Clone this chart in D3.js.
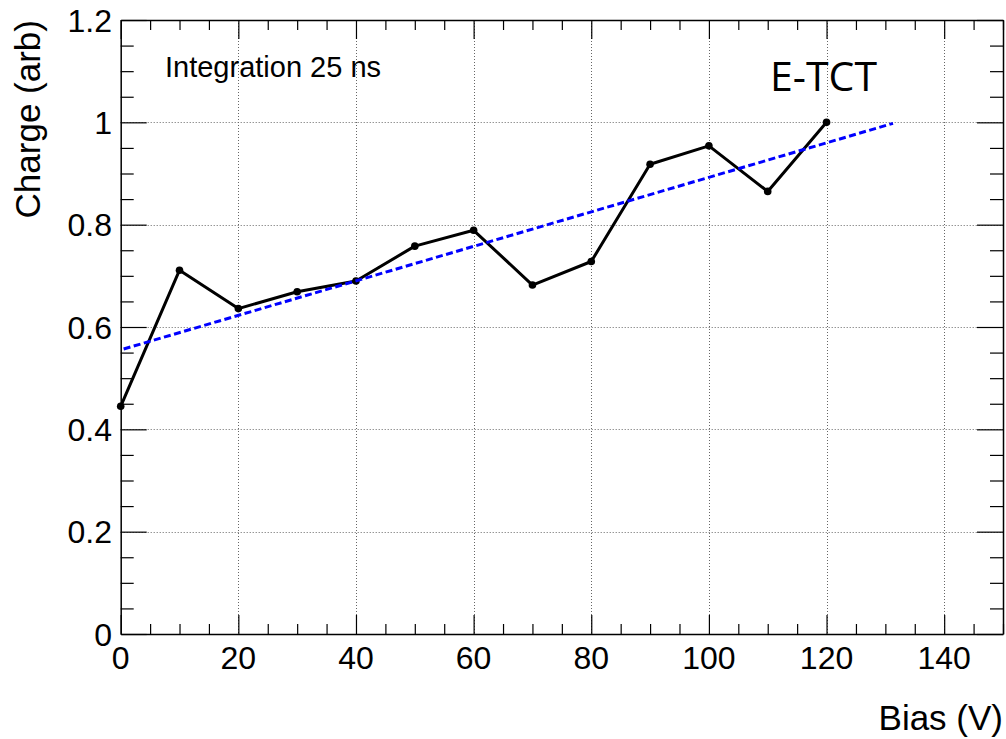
<!DOCTYPE html>
<html>
<head>
<meta charset="utf-8">
<script src="https://cdn.jsdelivr.net/npm/d3@7"></script>
<style>
  html, body { margin: 0; padding: 0; background: #fff; }
  svg { display: block; }
</style>
</head>
<body>
<div id="chart"></div>
<script>
// Measured charge versus bias voltage
const biasVolts = [0, 10, 20, 30, 40, 50, 60, 70, 80, 90, 100, 110, 120];
const chargeArb = [0.445, 0.711, 0.636, 0.669, 0.690, 0.758, 0.789, 0.682, 0.728, 0.918, 0.954, 0.865, 1.0];

// Linear fit endpoints (bias, charge)
const fitBias = [0.5, 131.3];
const fitCharge = [0.557, 0.998];

// Axis ticks
const xMajorTicks = [0, 20, 40, 60, 80, 100, 120, 140];
const yMajorTicks = [0, 0.2, 0.4, 0.6, 0.8, 1.0, 1.2];
const xTickLabels = ["0", "20", "40", "60", "80", "100", "120", "140"];
const yTickLabels = ["0", "0.2", "0.4", "0.6", "0.8", "1", "1.2"];

const W = 1006, H = 739;
const frame = { left: 120.7, right: 1003, top: 20, bottom: 634 };

const svg = d3.select("#chart").append("svg")
  .attr("width", W).attr("height", H);

const x = d3.scaleLinear().domain([0, 150]).range([frame.left, frame.right]);
const y = d3.scaleLinear().domain([0, 1.2]).range([frame.bottom, frame.top]);

const font = "'Liberation Sans', Arial, Helvetica, sans-serif";

// Grid lines (dotted)
const grid = svg.append("g")
  .attr("stroke", "#666").attr("stroke-width", 1)
  .attr("stroke-dasharray", "1,2").attr("fill", "none");
xMajorTicks.filter(v => v > 0).forEach(v => {
  grid.append("line").attr("x1", Math.round(x(v)) + 0.5).attr("x2", Math.round(x(v)) + 0.5)
    .attr("y1", frame.top).attr("y2", frame.bottom);
});
yMajorTicks.filter(v => v > 0 && v < 1.2).forEach(v => {
  grid.append("line").attr("y1", Math.round(y(v)) + 0.5).attr("y2", Math.round(y(v)) + 0.5)
    .attr("x1", frame.left).attr("x2", frame.right);
});

// Axes with ticks on all four sides
const xMinor = d3.range(0, 150.001, 5);
const yMinor = d3.range(0, 1.2001, 0.05);
const isMajorX = v => Math.abs(v / 20 - Math.round(v / 20)) < 1e-6;
const isMajorY = v => Math.abs(v / 0.2 - Math.round(v / 0.2)) < 1e-6;

const axisBottom = d3.axisBottom(x).tickValues(xMinor).tickFormat("").tickSizeOuter(0);
const axisTop = d3.axisTop(x).tickValues(xMinor).tickFormat("").tickSizeOuter(0);
const axisLeft = d3.axisLeft(y).tickValues(yMinor).tickFormat("").tickSizeOuter(0);
const axisRight = d3.axisRight(y).tickValues(yMinor).tickFormat("").tickSizeOuter(0);

function styleAxis(g, dir, majorLen, minorLen, isMajor) {
  g.select(".domain").attr("stroke", "#000").attr("stroke-width", 1.5);
  g.selectAll(".tick line")
    .attr("stroke", "#000").attr("stroke-width", 1.2)
    .each(function(d) {
      const len = isMajor(d) ? majorLen : minorLen;
      const s = d3.select(this);
      if (dir === "bottom") s.attr("y2", -len);
      if (dir === "top") s.attr("y2", len);
      if (dir === "left") s.attr("x2", len);
      if (dir === "right") s.attr("x2", -len);
    });
}

svg.append("g").attr("transform", `translate(0,${frame.bottom})`).call(axisBottom)
  .call(g => styleAxis(g, "bottom", 19, 10, isMajorX));
svg.append("g").attr("transform", `translate(0,${frame.top})`).call(axisTop)
  .call(g => styleAxis(g, "top", 19, 10, isMajorX));
svg.append("g").attr("transform", `translate(${frame.left},0)`).call(axisLeft)
  .call(g => styleAxis(g, "left", 26, 13, isMajorY));
svg.append("g").attr("transform", `translate(${frame.right},0)`).call(axisRight)
  .call(g => styleAxis(g, "right", 26, 13, isMajorY));

// Tick labels
svg.append("g").selectAll("text").data(xMajorTicks).join("text")
  .attr("x", d => x(d)).attr("y", 669)
  .attr("text-anchor", "middle")
  .attr("font-family", font).attr("font-size", 32)
  .text((d, i) => xTickLabels[i]);

svg.append("g").selectAll("text").data(yMajorTicks).join("text")
  .attr("x", 112).attr("y", d => y(d) + 11.5)
  .attr("text-anchor", "end")
  .attr("font-family", font).attr("font-size", 32)
  .text((d, i) => yTickLabels[i]);

// Axis titles
svg.append("text")
  .attr("x", frame.right).attr("y", 730)
  .attr("text-anchor", "end")
  .attr("font-family", font).attr("font-size", 35)
  .text("Bias (V)");

svg.append("text")
  .attr("transform", `translate(40,${frame.top}) rotate(-90)`)
  .attr("text-anchor", "end")
  .attr("font-family", font).attr("font-size", 35)
  .text("Charge (arb)");

// Data graph
const line = d3.line().x(d => x(d[0])).y(d => y(d[1]));
const pts = biasVolts.map((b, i) => [b, chargeArb[i]]);

svg.append("path").datum(pts)
  .attr("d", line)
  .attr("fill", "none").attr("stroke", "#000").attr("stroke-width", 3)
  .attr("stroke-linejoin", "round");

svg.append("g").selectAll("circle").data(pts).join("circle")
  .attr("cx", d => x(d[0])).attr("cy", d => y(d[1]))
  .attr("r", 3.8).attr("fill", "#000");

// Fit line
svg.append("path").datum(fitBias.map((b, i) => [b, fitCharge[i]]))
  .attr("d", line)
  .attr("fill", "none").attr("stroke", "#0000ff").attr("stroke-width", 3)
  .attr("stroke-dasharray", "7,3.5");

// Annotations
svg.append("text")
  .attr("x", 165).attr("y", 77)
  .attr("font-family", font).attr("font-size", 29)
  .text("Integration 25 ns");

svg.append("text")
  .attr("x", 770).attr("y", 91)
  .attr("font-family", "'Open Sans', 'Noto Sans', sans-serif").attr("font-size", 41)
  .text("E-TCT");
</script>
</body>
</html>
